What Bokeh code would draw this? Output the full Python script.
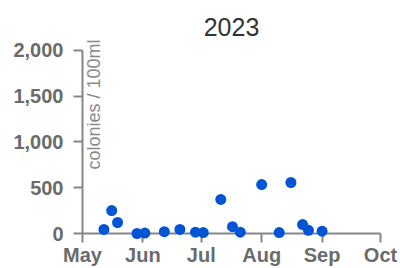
from datetime import datetime
import pandas as pd
from bokeh.plotting import figure
from bokeh.models import (ColumnDataSource, Range1d, FixedTicker, NumeralTickFormatter,
                          Label)
from bokeh.embed import file_html
from bokeh.resources import INLINE

# ---- data ----
title_text = "2023"
y_label = "colonies / 100ml"
sample_dates = ["2023-05-12", "2023-05-16", "2023-05-19", "2023-05-29", "2023-06-02",
                "2023-06-12", "2023-06-20", "2023-06-28", "2023-07-02", "2023-07-11",
                "2023-07-17", "2023-07-21", "2023-08-01", "2023-08-10", "2023-08-16",
                "2023-08-22", "2023-08-25", "2023-09-01"]
colonies = [44, 250, 120, 0, 5, 20, 45, 15, 10, 372, 75, 15, 535, 10, 557, 98, 35, 25]
month_starts = ["2023-05-01", "2023-06-01", "2023-07-01", "2023-08-01", "2023-09-01", "2023-10-01"]
month_labels = ["May", "Jun", "Jul", "Aug", "Sep", "Oct"]
y_ticks = [0, 500, 1000, 1500, 2000]

FONT = "Liberation Sans"
AXIS_COLOR = "#858585"
LABEL_COLOR = "#6b6b6b"

src = ColumnDataSource(dict(date=pd.to_datetime(sample_dates), value=colonies))

month_ms = [pd.Timestamp(d).value / 1e6 for d in month_starts]

# head room above the top tick so the rotated axis title is not clipped
Y_TOP = 2130

p = figure(width=400, height=268, output_backend="svg", toolbar_location=None,
           x_axis_type="datetime",
           x_range=Range1d(month_ms[0], month_ms[-1]),
           y_range=Range1d(y_ticks[0], Y_TOP),
           min_border_left=82, min_border_right=20, min_border_top=38, min_border_bottom=34)
p.outline_line_color = None
p.grid.grid_line_color = None
p.background_fill_color = "white"
p.border_fill_color = "white"

p.title.text = title_text
p.title.align = "center"
p.title.vertical_align = "bottom"
p.title.text_font = FONT
p.title.text_font_size = "25px"
p.title.text_font_style = "normal"
p.title.text_color = "#333333"
p.title.standoff = 5

r = p.scatter("date", "value", source=src, size=11, color="#0055d4", line_color=None)
r.level = "overlay"

for ax in (p.xaxis[0], p.yaxis[0]):
    ax.axis_line_color = AXIS_COLOR
    ax.axis_line_width = 2
    ax.major_tick_line_color = AXIS_COLOR
    ax.major_tick_line_width = 2
    ax.major_tick_in = 0
    ax.major_tick_out = 9
    ax.minor_tick_line_color = None
    ax.major_label_text_font = FONT
    ax.major_label_text_font_size = "20px"
    ax.major_label_text_font_style = "bold"
    ax.major_label_text_color = LABEL_COLOR

p.xaxis.ticker = FixedTicker(ticks=month_ms)
p.xaxis.major_label_overrides = {m: lab for m, lab in zip(month_ms, month_labels)}
p.xaxis.major_label_standoff = 1
p.xaxis.major_label_text_line_height = 0.9

p.yaxis.ticker = FixedTicker(ticks=y_ticks)
p.yaxis.formatter = NumeralTickFormatter(format="0,0")
p.yaxis.major_label_standoff = 10
p.yaxis.bounds = (y_ticks[0], y_ticks[-1])

lab = Label(x=pd.Timestamp("2023-05-07").value / 1e6, y=2120, text=y_label, angle=90,
            angle_units="deg", text_align="right", text_baseline="middle",
            text_font=FONT, text_font_size="18px", text_color="#8a8a8a", level="overlay")
p.add_layout(lab)

open("out.html", "w").write(file_html(p, INLINE))
